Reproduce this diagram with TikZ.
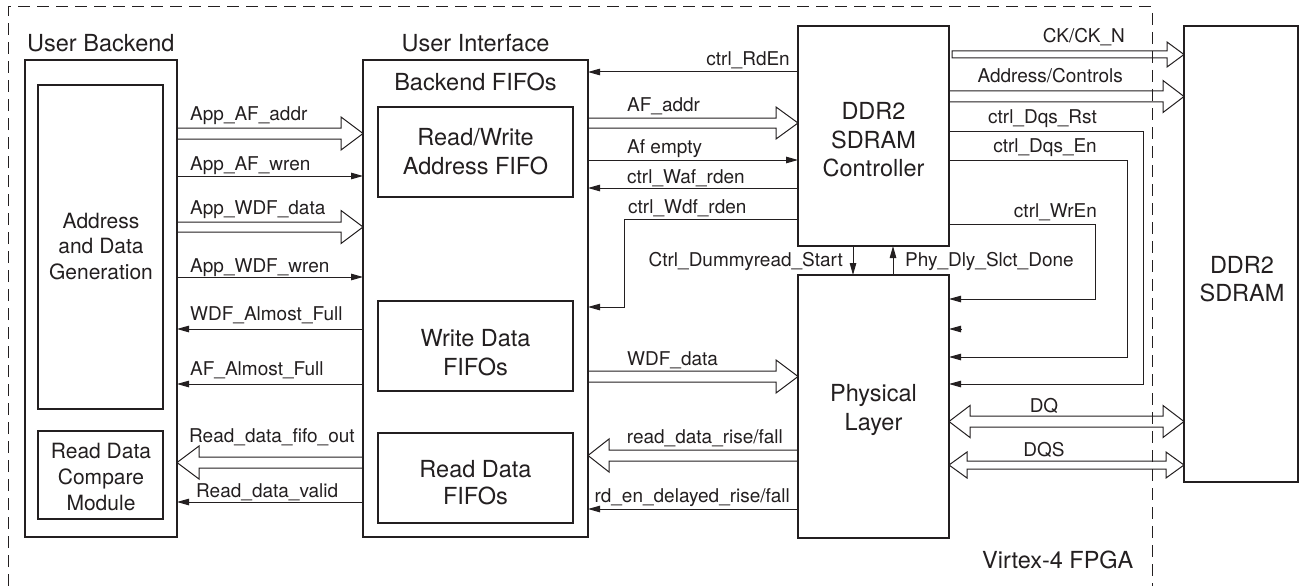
\documentclass[tikz,border=0pt]{standalone}
\usepackage{fontspec}
\setmainfont{TeX Gyre Heros}
\usetikzlibrary{calc,arrows.meta}
\definecolor{ink}{HTML}{231F20}
\newcommand\fntBig{\fontsize{23.5}{28}\selectfont}
\newcommand\fntMid{\fontsize{21}{25}\selectfont}
\newcommand\fntSm{\fontsize{19}{22}\selectfont}
% one-headed hollow arrow: #1 start, #2 tip, #3 half shaft, #4 half head, #5 head length
\newcommand\fatOne[5]{\draw[fat] ($(#1)+(0,#3)$) -- ($(#2)!#5pt!(#1)+(0,#3)$) -- ($(#2)!#5pt!(#1)+(0,#4)$) -- (#2) -- ($(#2)!#5pt!(#1)+(0,-#4)$) -- ($(#2)!#5pt!(#1)+(0,-#3)$) -- ($(#1)+(0,-#3)$);}
\newcommand\fatOneC[5]{\draw[fat] ($(#1)+(0,#3)$) -- ($(#2)!#5pt!(#1)+(0,#3)$) -- ($(#2)!#5pt!(#1)+(0,#4)$) -- (#2) -- ($(#2)!#5pt!(#1)+(0,-#4)$) -- ($(#2)!#5pt!(#1)+(0,-#3)$) -- ($(#1)+(0,-#3)$) -- cycle;}
\newcommand\fatTwo[5]{\draw[fat] ($(#1)!#5pt!(#2)+(0,#3)$) -- ($(#2)!#5pt!(#1)+(0,#3)$) -- ($(#2)!#5pt!(#1)+(0,#4)$) -- (#2) -- ($(#2)!#5pt!(#1)+(0,-#4)$) -- ($(#2)!#5pt!(#1)+(0,-#3)$) -- ($(#1)!#5pt!(#2)+(0,-#3)$) -- ($(#1)!#5pt!(#2)+(0,-#4)$) -- (#1) -- ($(#1)!#5pt!(#2)+(0,#4)$) -- cycle;}
\begin{document}
\begin{tikzpicture}[x=1pt,y=-1pt,
  box/.style={draw=ink,line width=2.2pt,inner sep=0pt,outer sep=0pt},
  big/.style={text=ink,inner sep=0pt,font=\fntBig},
  mid/.style={text=ink,inner sep=0pt,font=\fntMid},
  lab/.style={text=ink,inner sep=0pt,font=\fntSm},
  sig/.style={draw=ink,line width=1pt,-{Triangle[length=12pt,width=6.5pt]}},
  fat/.style={draw=ink,line width=1pt,line join=miter},
  frame/.style={draw=ink,line width=1pt,dash pattern=on 12pt off 7pt}]
\useasboundingbox (0,0) rectangle (1302,586);

% frame
\draw[frame] (8,586) -- (8,7) -- (1152,7) -- (1152,586);

% boxes
\node[box,minimum width=152pt,minimum height=477pt] (ub) at (101,298.5) {};
\node[box,minimum width=125pt,minimum height=324pt] (adg) at (100.5,247) {};
\node[box,minimum width=125pt,minimum height=88pt] (rdc) at (100.5,475) {};
\node[box,minimum width=225pt,minimum height=477pt] (ui) at (475.5,298.5) {};
\node[box,minimum width=195pt,minimum height=90pt] (rwf) at (475.5,152) {};
\node[box,minimum width=195pt,minimum height=90pt] (wdf) at (475.5,346) {};
\node[box,minimum width=195pt,minimum height=90pt] (rdf) at (475.5,478) {};
\node[box,minimum width=151pt,minimum height=220pt] (ctl) at (873.5,136) {};
\node[box,minimum width=151pt,minimum height=263pt] (phy) at (873.5,406.5) {};
\node[box,minimum width=114pt,minimum height=456pt] (ddr) at (1241,254) {};

% big texts
\node[big,anchor=base west] (tub) at (27,52) {User Backend};
\node[big,anchor=base] (tui) at (475.5,52) {User Interface};
\node[big,anchor=base] (tbf) at (475.5,91) {Backend FIFOs};
\node[big,anchor=base] (trw1) at (475.5,146) {Read/Write};
\node[big,anchor=base] (trw2) at (475.5,174) {Address FIFO};
\node[big,anchor=base] (twd1) at (475.5,346) {Write Data};
\node[big,anchor=base] (twd2) at (475.5,375) {FIFOs};
\node[big,anchor=base] (trd1) at (475.5,477) {Read Data};
\node[big,anchor=base] (trd2) at (475.5,504) {FIFOs};
\node[mid,anchor=base] (tad1) at (101,228) {Address};
\node[mid,anchor=base] (tad2) at (101,253) {and Data};
\node[mid,anchor=base] (tad3) at (101,279) {Generation};
\node[mid,anchor=base] (trc1) at (101,458) {Read Data};
\node[mid,anchor=base] (trc2) at (101,484) {Compare};
\node[mid,anchor=base] (trc3) at (101,510) {Module};
\node[big,anchor=base] (tct1) at (873.5,119) {DDR2};
\node[big,anchor=base] (tct2) at (873.5,148) {SDRAM};
\node[big,anchor=base] (tct3) at (873.5,176) {Controller};
\node[big,anchor=base] (tph1) at (873.5,401) {Physical};
\node[big,anchor=base] (tph2) at (873.5,430) {Layer};
\node[big,anchor=base] (tdd1) at (1242,273) {DDR2};
\node[big,anchor=base] (tdd2) at (1242,301) {SDRAM};
\node[big,anchor=base west] (tvx) at (982,568) {Virtex-4 FPGA};

% signal labels
\node[lab,anchor=base west] (l1) at (190,121) {App\_AF\_addr};
\node[lab,anchor=base west] (l2) at (190,170) {App\_AF\_wren};
\node[lab,anchor=base west] (l3) at (190,214) {App\_WDF\_data};
\node[lab,anchor=base west] (l4) at (190,272) {App\_WDF\_wren};
\node[lab,anchor=base west] (l5) at (190,320) {WDF\_Almost\_Full};
\node[lab,anchor=base west] (l6) at (190,375) {AF\_Almost\_Full};
\node[lab,anchor=base west] (l7) at (189,442) {Read\_data\_fifo\_out};
\node[lab,anchor=base west] (l8) at (196,497) {Read\_data\_valid};
\node[lab,anchor=base east] (m1) at (790,66) {ctrl\_RdEn};
\node[lab,anchor=base west] (m2) at (627,111) {AF\_addr};
\node[lab,anchor=base west] (m3) at (627,153) {Af empty};
\node[lab,anchor=base west] (m4) at (627,183) {ctrl\_Waf\_rden};
\node[lab,anchor=base west] (m5) at (628,213) {ctrl\_Wdf\_rden};
\node[lab,anchor=base east] (m6) at (843,266) {Ctrl\_Dummyread\_Start};
\node[lab,anchor=base west] (m7) at (905,266) {Phy\_Dly\_Slct\_Done};
\node[lab,anchor=base west] (m8) at (627,365) {WDF\_data};
\node[lab,anchor=base east] (m9) at (783,443) {read\_data\_rise/fall};
\node[lab,anchor=base east] (m10) at (790,502) {rd\_en\_delayed\_rise/fall};
\node[lab,anchor=base east] (r1) at (1125,43) {CK/CK\_N};
\node[lab,anchor=base east] (r2) at (1123,83) {Address/Controls};
\node[lab,anchor=base east] (r3) at (1097,124) {ctrl\_Dqs\_Rst};
\node[lab,anchor=base east] (r4) at (1097,152) {ctrl\_Dqs\_En};
\node[lab,anchor=base east] (r5) at (1097,217) {ctrl\_WrEn};
\node[lab,anchor=base] (r6) at (1044,412) {DQ};
\node[lab,anchor=base] (r7) at (1044,456) {DQS};

% hollow bus arrows
\coordinate (f1s) at (ub.east |- 0,133.5); \coordinate (f1t) at (ui.west |- 0,133.5);
\fatOne{f1s}{f1t}{5.5}{16.5}{22}
\coordinate (f2s) at (ub.east |- 0,227); \coordinate (f2t) at (ui.west |- 0,227);
\fatOne{f2s}{f2t}{5}{16.5}{22}
\coordinate (f3s) at (ui.east |- 0,123); \coordinate (f3t) at (ctl.west |- 0,123);
\fatOne{f3s}{f3t}{5}{16}{22}
\coordinate (f4s) at (ui.east |- 0,376.5); \coordinate (f4t) at (phy.west |- 0,376.5);
\fatOne{f4s}{f4t}{5.5}{16.5}{22}
\coordinate (f5s) at (ui.west |- 0,462.5); \coordinate (f5t) at (ub.east |- 0,462.5);
\fatOne{f5s}{f5t}{5.5}{16.5}{22}
\coordinate (f6s) at (phy.west |- 0,455.5); \coordinate (f6t) at (ui.east |- 0,455.5);
\fatOne{f6s}{f6t}{5.5}{16.5}{21}
\coordinate (f7s) at ($(ctl.east |- 0,54.5)+(3,0)$); \coordinate (f7t) at (ddr.west |- 0,54.5);
\fatOneC{f7s}{f7t}{3.5}{12.5}{17}
\coordinate (f8s) at (ctl.east |- 0,96.5); \coordinate (f8t) at (ddr.west |- 0,96.5);
\fatOne{f8s}{f8t}{5.5}{16}{21}
\coordinate (f9a) at (phy.east |- 0,421.5); \coordinate (f9b) at (ddr.west |- 0,421.5);
\fatTwo{f9a}{f9b}{5.5}{16}{21}
\coordinate (f10a) at (phy.east |- 0,465); \coordinate (f10b) at (ddr.west |- 0,465);
\fatTwo{f10a}{f10b}{4}{13}{18}

% thin signals, left
\draw[sig] (ub.east |- 0,176) -- (ui.west |- 0,176);
\draw[sig] (ub.east |- 0,277) -- (ui.west |- 0,277);
\draw[sig] (ui.west |- 0,329) -- (ub.east |- 0,329);
\draw[sig] (ui.west |- 0,384) -- (ub.east |- 0,384);
\draw[sig] (ui.west |- 0,502) -- (ub.east |- 0,502);
% thin signals, middle
\draw[sig] (ctl.west |- 0,72) -- (ui.east |- 0,72);
\draw[sig] (ui.east |- 0,160) -- (ctl.west |- 0,160);
\draw[sig] (ctl.west |- 0,188) -- (ui.east |- 0,188);
\draw[sig] (ctl.west |- 0,219) -- (624,219) -- (624,307) -- (ui.east |- 0,307);
\draw[sig] (phy.west |- 0,509) -- (ui.east |- 0,509);
\draw[sig] (ctl.south -| 853,0) -- (phy.north -| 853,0);
\draw[sig] (phy.north -| 893,0) -- (ctl.south -| 893,0);
% thin signals, right
\draw[sig] (ctl.east |- 0,131) -- (1143,131) -- (1143,384) -- (phy.east |- 0,384);
\draw[sig] (ctl.east |- 0,160) -- (1127,160) -- (1127,357) -- (phy.east |- 0,357);
\draw[sig] (ctl.east |- 0,224) -- (1095,224) -- (1095,299) -- (phy.east |- 0,299);
\coordinate (stub) at ($(phy.east |- 0,329)+(12,0)$);
\draw[sig] (stub) -- (phy.east |- 0,329);
\end{tikzpicture}
\end{document}
